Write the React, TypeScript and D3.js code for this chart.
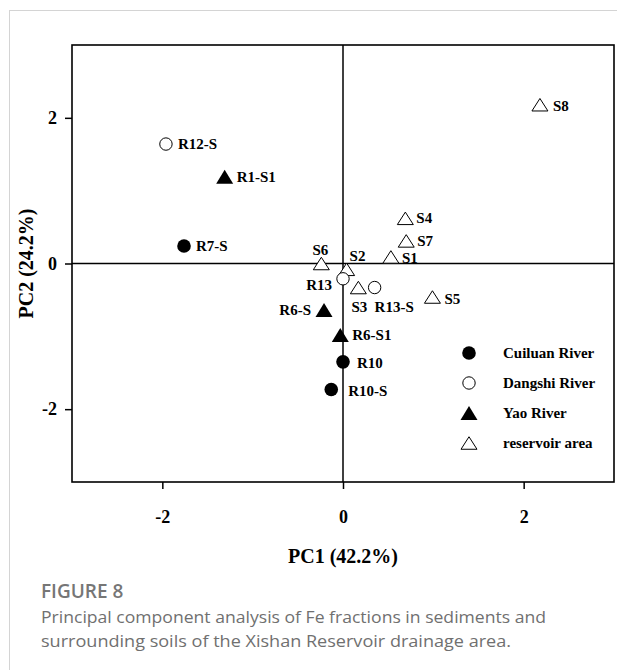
import React, { useEffect, useRef } from "react";
import * as d3 from "d3";

// PCA scores
const sampleNames = ["R12-S", "R1-S1", "R7-S", "S6", "S2", "R13", "S3", "R13-S", "S4", "S7", "S1", "S5", "R6-S", "R6-S1", "R10", "R10-S", "S8"];
const pc1 = [-1.96, -1.31, -1.76, -0.24, 0.04, 0.0, 0.17, 0.35, 0.69, 0.7, 0.53, 0.99, -0.21, -0.03, 0.0, -0.13, 2.18];
const pc2 = [1.64, 1.19, 0.24, 0.0, -0.08, -0.21, -0.33, -0.33, 0.62, 0.31, 0.09, -0.46, -0.64, -0.98, -1.35, -1.73, 2.18];
const sampleGroup = [1, 2, 0, 3, 3, 1, 3, 1, 3, 3, 3, 3, 2, 2, 0, 0, 3];

const groups = ["Cuiluan River", "Dangshi River", "Yao River", "reservoir area"];
const xTicks = [-2, 0, 2];
const yTicks = [-2, 0, 2];

// label placement relative to the marker: dx, dy, anchor
const labelPos: Record<string, [number, number, string]> = {
  "R12-S": [12, 0, "start"],
  "R1-S1": [12, 0, "start"],
  "R7-S": [12, 0, "start"],
  S6: [-1, -14, "middle"],
  S2: [3, -13, "start"],
  R13: [-11, 6, "end"],
  S3: [1, 19, "middle"],
  "R13-S": [0, 19, "start"],
  S4: [11, 0, "start"],
  S7: [11, 0, "start"],
  S1: [11, 1, "start"],
  S5: [12, 2, "start"],
  "R6-S": [-13, 0, "end"],
  "R6-S1": [12, 0, "start"],
  R10: [14, 1, "start"],
  "R10-S": [17, 1, "start"],
  S8: [13, 1, "start"],
};

const W = 617;
const H = 670;
const serif = "'Liberation Serif', 'Times New Roman', serif";
const sans = "'Open Sans', 'Noto Sans', sans-serif";

const triPath = (w: number, h: number) =>
  `M0,${-h / 2}L${w / 2},${h / 2}L${-w / 2},${h / 2}Z`;

function drawMarker(g: d3.Selection<SVGGElement, unknown, null, undefined>, group: number) {
  if (group === 0) {
    g.append("circle").attr("r", 6.8).attr("fill", "#000");
  } else if (group === 1) {
    g.append("circle").attr("r", 6.2).attr("fill", "#fff").attr("stroke", "#000").attr("stroke-width", 1);
  } else if (group === 2) {
    g.append("path").attr("d", triPath(17, 14)).attr("fill", "#000");
  } else {
    g.append("path").attr("d", triPath(16, 12.5)).attr("fill", "#fff").attr("stroke", "#000").attr("stroke-width", 1);
  }
}

export default function App() {
  const svgRef = useRef<SVGSVGElement>(null);

  useEffect(() => {
    const svg = d3.select(svgRef.current);
    svg.selectAll("*").remove();

    // card outline
    svg.append("rect")
      .attr("x", 9.5).attr("y", 10.5)
      .attr("width", 700).attr("height", 700)
      .attr("fill", "#fff").attr("stroke", "#d4d4d4");

    const x = d3.scaleLinear().domain([-3, 3]).range([72, 614]);
    const y = d3.scaleLinear().domain([-3, 3]).range([482, 45]);

    const plot = svg.append("g");

    // frame
    plot.append("rect")
      .attr("x", x(-3)).attr("y", y(3))
      .attr("width", x(3) - x(-3)).attr("height", y(-3) - y(3))
      .attr("fill", "none").attr("stroke", "#000").attr("stroke-width", 1.6);

    // zero lines
    plot.append("line")
      .attr("x1", x(0)).attr("x2", x(0)).attr("y1", y(3)).attr("y2", y(-3))
      .attr("stroke", "#000").attr("stroke-width", 1.5);
    plot.append("line")
      .attr("x1", x(-3)).attr("x2", x(3)).attr("y1", y(0)).attr("y2", y(0))
      .attr("stroke", "#000").attr("stroke-width", 1.5);

    // axes (plain hyphen for minus, as in the original)
    const fmt = (d: d3.NumberValue) => String(d);
    const xAxis = d3.axisBottom(x).tickValues(xTicks).tickSize(7).tickFormat(fmt);
    const yAxis = d3.axisLeft(y).tickValues(yTicks).tickSize(7).tickPadding(8).tickFormat(fmt);

    const gx = plot.append("g").attr("transform", `translate(0,${y(-3)})`).call(xAxis);
    const gy = plot.append("g").attr("transform", `translate(${x(-3)},0)`).call(yAxis);
    [gx, gy].forEach((ga) => {
      ga.select(".domain").remove();
      ga.selectAll("line").attr("stroke", "#000").attr("stroke-width", 1.5);
      ga.selectAll("text")
        .attr("fill", "#000")
        .style("font-family", serif)
        .style("font-weight", "bold")
        .style("font-size", "18px");
    });
    gx.selectAll("text").attr("y", 41).attr("dy", 0);

    // axis titles
    plot.append("text")
      .attr("x", x(0)).attr("y", 563)
      .attr("text-anchor", "middle")
      .style("font-family", serif).style("font-weight", "bold").style("font-size", "20px")
      .text("PC1 (42.2%)");
    plot.append("text")
      .attr("transform", `translate(33,${y(0)}) rotate(-90)`)
      .attr("text-anchor", "middle")
      .style("font-family", serif).style("font-weight", "bold").style("font-size", "20px")
      .text("PC2 (24.2%)");

    // points
    sampleNames.forEach((name, i) => {
      const px = x(pc1[i]);
      const py = y(pc2[i]);
      const g = plot.append("g").attr("transform", `translate(${px},${py})`);
      drawMarker(g, sampleGroup[i]);
      const [dx, dy, anchor] = labelPos[name];
      plot.append("text")
        .attr("x", px + dx).attr("y", py + dy + 5)
        .attr("text-anchor", anchor)
        .style("font-family", serif).style("font-weight", "bold").style("font-size", "15px")
        .text(name);
    });

    // legend
    const legend = plot.append("g").attr("transform", "translate(469,353)");
    groups.forEach((name, i) => {
      const row = legend.append("g").attr("transform", `translate(0,${i * 30})`);
      drawMarker(row, i);
      row.append("text")
        .attr("x", 34).attr("y", 5)
        .style("font-family", serif).style("font-weight", "bold").style("font-size", "15px")
        .text(name);
    });

    // caption
    svg.append("text")
      .attr("x", 41).attr("y", 598)
      .attr("fill", "#767676")
      .style("font-family", sans).style("font-weight", 600).style("font-size", "19px")
      .text("FIGURE 8");
    const caption = [
      "Principal component analysis of Fe fractions in sediments and",
      "surrounding soils of the Xishan Reservoir drainage area.",
    ];
    const captionWidth = [505, 470];
    caption.forEach((line, i) => {
      svg.append("text")
        .attr("x", 41).attr("y", 623 + i * 23.5)
        .attr("fill", "#707070")
        .attr("textLength", captionWidth[i])
        .attr("lengthAdjust", "spacingAndGlyphs")
        .style("font-family", sans).style("font-size", "16.5px")
        .text(line);
    });
  }, []);

  return (
    <svg
      ref={svgRef}
      width={W}
      height={H}
      style={{ position: "absolute", left: 0, top: 0, background: "#fff" }}
    />
  );
}
